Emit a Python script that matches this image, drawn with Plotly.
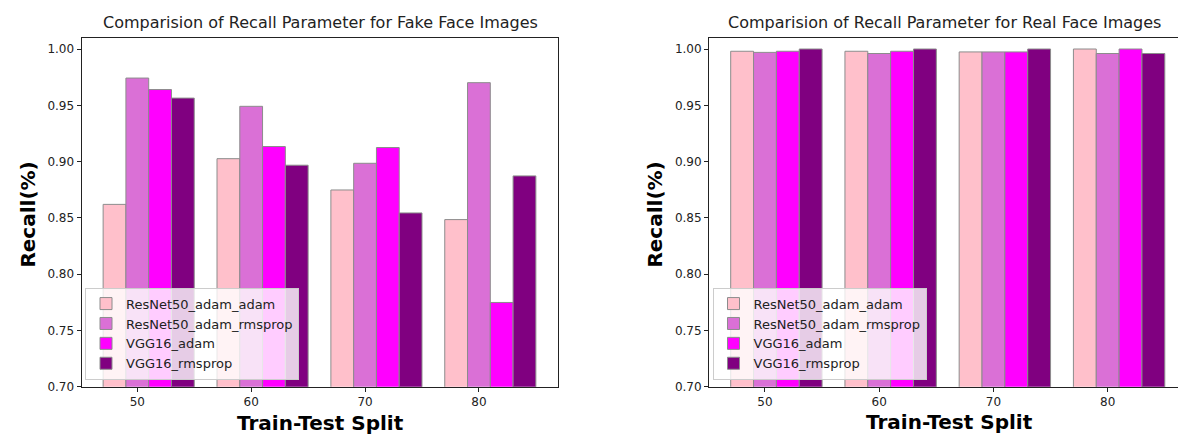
import plotly.graph_objects as go

splits = [50, 60, 70, 80]
models = ["ResNet50_adam_adam", "ResNet50_adam_rmsprop", "VGG16_adam", "VGG16_rmsprop"]
colors = ["#FFC0CB", "#DA70D6", "#FF00FF", "#800080"]

fake_resnet_adam = [0.862, 0.9026, 0.8748, 0.8485]
fake_resnet_rmsprop = [0.9742, 0.9491, 0.8985, 0.9701]
fake_vgg_adam = [0.964, 0.9134, 0.9125, 0.7749]
fake_vgg_rmsprop = [0.9564, 0.8968, 0.8544, 0.8873]

real_resnet_adam = [0.998, 0.998, 0.9974, 1.000]
real_resnet_rmsprop = [0.997, 0.996, 0.9974, 0.996]
real_vgg_adam = [0.998, 0.998, 0.9974, 1.000]
real_vgg_rmsprop = [1.000, 1.000, 1.000, 0.996]

fake_series = [fake_resnet_adam, fake_resnet_rmsprop, fake_vgg_adam, fake_vgg_rmsprop]
real_series = [real_resnet_adam, real_resnet_rmsprop, real_vgg_adam, real_vgg_rmsprop]

y_ticks = [0.70, 0.75, 0.80, 0.85, 0.90, 0.95, 1.00]

W, H = 1186, 435
FONT = "DejaVu Sans"

fig = go.Figure()
for i, (name, col) in enumerate(zip(models, colors)):
    fig.add_trace(go.Bar(
        x=splits, y=fake_series[i], width=2, offset=-3 + 2 * i, name=name,
        marker=dict(color=col, line=dict(color="#8c8c8c", width=1)),
        xaxis="x", yaxis="y", legend="legend"))
for i, (name, col) in enumerate(zip(models, colors)):
    fig.add_trace(go.Bar(
        x=splits, y=real_series[i], width=2, offset=-3 + 2 * i, name=name,
        marker=dict(color=col, line=dict(color="#8c8c8c", width=1)),
        xaxis="x2", yaxis="y2", legend="legend2"))

ydom = [1 - 385 / H, 1 - 30 / H]
common_x = dict(range=[45.1, 86.9], tickvals=splits, ticks="outside", ticklen=4,
                tickwidth=1, tickcolor="#222", showline=True, mirror=True,
                linecolor="#222", linewidth=1, showgrid=False, zeroline=False,
                tickfont=dict(family=FONT, size=12, color="#222"))
common_y = dict(range=[0.70, 1.0102], tickvals=y_ticks, tickformat=".2f",
                ticks="outside", ticklen=4, tickwidth=1, tickcolor="#222",
                showline=True, mirror=True, linecolor="#222", linewidth=1,
                showgrid=False, zeroline=False,
                tickfont=dict(family=FONT, size=12, color="#222"))

legend_common = dict(bgcolor="rgba(255,255,255,0.8)", bordercolor="#cccccc",
                     borderwidth=1, font=dict(family=FONT, size=13, color="#222"),
                     xanchor="left", yanchor="bottom", tracegroupgap=0)

fig.update_layout(
    width=W, height=H, margin=dict(l=0, r=0, t=0, b=0),
    paper_bgcolor="white", plot_bgcolor="white", barmode="overlay",
    xaxis=dict(domain=[73.5 / W, 549.5 / W], anchor="y", **common_x),
    yaxis=dict(domain=ydom, anchor="x", **common_y),
    xaxis2=dict(domain=[701 / W, 1178.5 / W], anchor="y2", **common_x),
    yaxis2=dict(domain=ydom, anchor="x2", **common_y),
    legend=dict(x=77 / W, y=1 - 377.7 / H, **legend_common),
    legend2=dict(x=704.5 / W, y=1 - 377.7 / H, **legend_common),
    showlegend=True,
)

annots = [
    dict(text="Comparision of Recall Parameter for Fake Face Images", x=312, y=15,
         font=dict(family=FONT, size=16, color="#222")),
    dict(text="Comparision of Recall Parameter for Real Face Images", x=936, y=15,
         font=dict(family=FONT, size=16, color="#222")),
    dict(text="<b>Train-Test Split</b>", x=312, y=421.5,
         font=dict(family=FONT, size=20, color="black")),
    dict(text="<b>Train-Test Split</b>", x=941, y=420.5,
         font=dict(family=FONT, size=20, color="black")),
    dict(text="<b>Recall(%)</b>", x=20, y=210, textangle=-90,
         font=dict(family=FONT, size=20, color="black")),
    dict(text="<b>Recall(%)</b>", x=647, y=210, textangle=-90,
         font=dict(family=FONT, size=20, color="black")),
]
for a in annots:
    fig.add_annotation(text=a["text"], x=a["x"] / W, y=1 - a["y"] / H,
                       xref="paper", yref="paper", showarrow=False,
                       xanchor="center", yanchor="middle",
                       textangle=a.get("textangle", 0), font=a["font"])

fig.write_html("out.html")
